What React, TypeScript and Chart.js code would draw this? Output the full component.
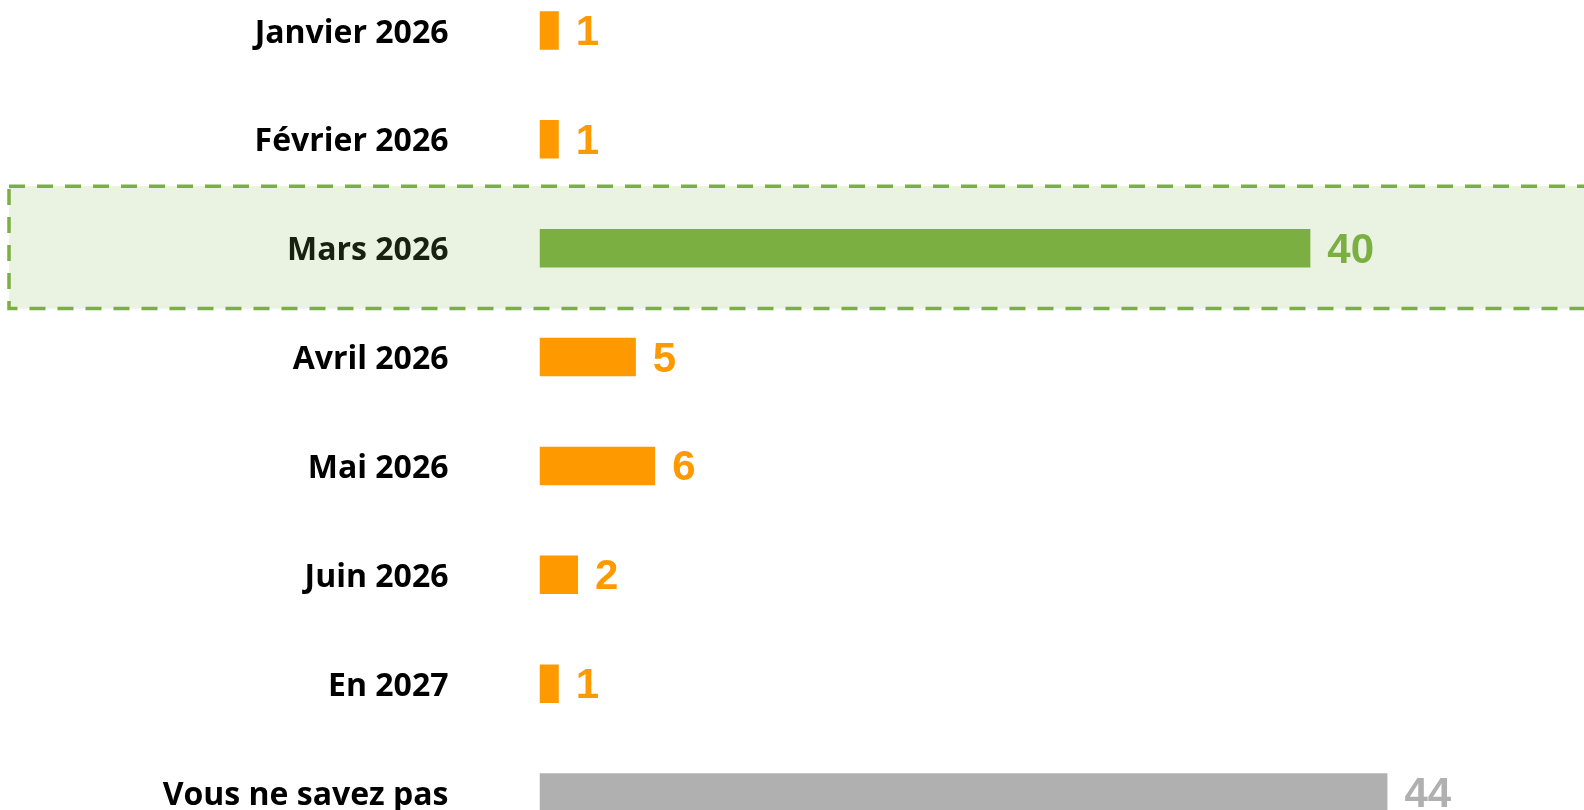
import React, { useEffect, useRef } from "react";
import { Chart, registerables } from "chart.js";

Chart.register(...registerables);

const categories = [
  "Janvier 2026",
  "Février 2026",
  "Mars 2026",
  "Avril 2026",
  "Mai 2026",
  "Juin 2026",
  "En 2027",
  "Vous ne savez pas",
];
const values = [1, 1, 40, 5, 6, 2, 1, 44];
const highlightIndex = 2;

const ORANGE = "#FF9900";
const GREEN = "#7BAF42";
const GRAY = "#B0B0B0";
const barColors = categories.map((_, i) =>
  i === highlightIndex ? GREEN : i === categories.length - 1 ? GRAY : ORANGE
);

const highlightPlugin = {
  id: "highlightBand",
  beforeDraw(chart: any) {
    const y = chart.scales.y;
    const ctx = chart.ctx;
    const pitch = y.getPixelForValue(1) - y.getPixelForValue(0);
    const cy = y.getPixelForValue(highlightIndex);
    const top = cy - pitch * 0.57;
    const bottom = cy + pitch * 0.555;
    const left = 9;
    const right = chart.width + 20;
    ctx.save();
    ctx.fillStyle = "#EAF3E2";
    ctx.fillRect(left, top, right - left, bottom - top);
    ctx.strokeStyle = GREEN;
    ctx.lineWidth = 3.5;
    ctx.setLineDash([16, 12]);
    ctx.strokeRect(left, top, right - left, bottom - top);
    ctx.restore();
  },
};

const valueLabelPlugin = {
  id: "valueLabels",
  afterDatasetsDraw(chart: any) {
    const ctx = chart.ctx;
    const meta = chart.getDatasetMeta(0);
    ctx.save();
    ctx.font = "bold 42px 'Liberation Sans', Arial, sans-serif";
    ctx.textAlign = "left";
    ctx.textBaseline = "alphabetic";
    meta.data.forEach((bar: any, i: number) => {
      ctx.fillStyle = barColors[i];
      ctx.fillText(String(values[i]), bar.x + 17, bar.y + 14.5);
    });
    ctx.restore();
  },
};

export default function App() {
  const ref = useRef<HTMLCanvasElement | null>(null);
  useEffect(() => {
    if (!ref.current) return;
    const chart = new Chart(ref.current, {
      type: "bar",
      data: {
        labels: categories,
        datasets: [
          {
            data: values,
            backgroundColor: barColors,
            borderWidth: 0,
            barPercentage: 0.354,
            categoryPercentage: 1,
          },
        ],
      },
      options: {
        indexAxis: "y",
        animation: false,
        responsive: true,
        maintainAspectRatio: false,
        layout: { padding: 0 },
        plugins: {
          legend: { display: false },
          tooltip: { enabled: false },
          title: { display: false },
        },
        scales: {
          x: {
            display: false,
            min: 0,
            max: 54.2,
          },
          y: {
            grid: { display: false, drawTicks: false },
            border: { display: false },
            afterFit(scale: any) {
              scale.width = 539.5;
              scale.paddingTop = 0;
              scale.paddingBottom = 0;
            },
            ticks: {
              padding: 91,
              labelOffset: 3,
              font: { family: "'Open Sans', sans-serif", size: 32, weight: "bold" },
              color: (c: any) => (c.index === highlightIndex ? "#18200F" : "#000000"),
            },
          },
        },
      },
      plugins: [highlightPlugin, valueLabelPlugin],
    });
    return () => chart.destroy();
  }, []);

  return (
    <div
      style={{
        position: "fixed",
        left: 0,
        top: 0,
        width: 1584,
        height: 810,
        overflow: "hidden",
        background: "#fff",
      }}
    >
      <div style={{ position: "absolute", left: 0, top: -24, width: 1584, height: 871 }}>
        <canvas ref={ref} />
      </div>
    </div>
  );
}
